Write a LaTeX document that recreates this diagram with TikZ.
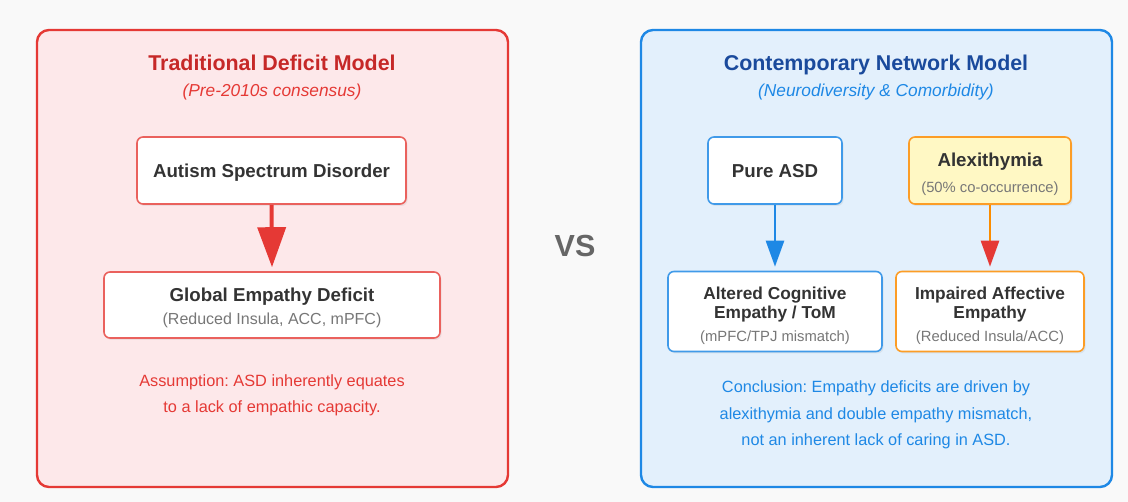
\documentclass[tikz,border=0pt]{standalone}
\usepackage{fontspec}
\setmainfont{Liberation Sans}
\usetikzlibrary{arrows.meta,shadows}
\definecolor{pagebg}{HTML}{F9F9F9}
\definecolor{redline}{HTML}{E53935}
\definecolor{redtitle}{HTML}{C62828}
\definecolor{redfill}{HTML}{FDE8EA}
\definecolor{blueline}{HTML}{1E88E5}
\definecolor{bluetitle}{HTML}{1A4A9C}
\definecolor{bluefill}{HTML}{E3F0FC}
\definecolor{orangeline}{HTML}{FB8C00}
\definecolor{yellowfill}{HTML}{FFF8C4}
\definecolor{darktext}{HTML}{333333}
\definecolor{subtext}{HTML}{777777}
\definecolor{vsgray}{HTML}{666666}
\tikzset{
  panel/.style={rounded corners=12pt, line width=2.4pt},
  card/.style={rounded corners=6pt, line width=1.6pt, fill=white,
    drop shadow={opacity=0.12, shadow xshift=1.5pt, shadow yshift=-2pt}},
  % every text line sits on its own baseline
  txt/.style={anchor=base, inner sep=0pt},
  ptitle/.style={txt, font=\fontsize{21.4}{24}\selectfont\bfseries},
  psub/.style={txt, font=\fontsize{17.3}{20}\selectfont\itshape},
  head/.style={txt, text=darktext, font=\fontsize{18.7}{20}\selectfont\bfseries},
  headsm/.style={txt, text=darktext, font=\fontsize{17.3}{20}\selectfont\bfseries},
  sub/.style={txt, text=subtext, font=\fontsize{14.8}{18}\selectfont},
  note/.style={txt, font=\fontsize{16.3}{20}\selectfont\frenchspacing},
}
\begin{document}
\begin{tikzpicture}[x=1pt,y=-1pt]
\fill[pagebg] (0,0) rectangle (1128,502);
\useasboundingbox (0,0) rectangle (1128,502);

% ---------- left panel: the deficit model ----------
\draw[panel, draw=redline, fill=redfill] (37,30) rectangle (508,487);
\node[ptitle, text=redtitle] (ltitle) at (272,71) {Traditional Deficit Model};
\node[psub, text=redline] (lsub) at (272,97) {(Pre-2010s consensus)};

\node[card, draw=redline!80, minimum width=269pt, minimum height=67pt] (asd) at (271.5,170.5) {};
\node[head] (asdtxt) at (271.5,178) {Autism Spectrum Disorder};

\node[card, draw=redline!80, minimum width=336pt, minimum height=66pt] (glob) at (272,305) {};
\node[head] (globtxt) at (272,302) {Global Empathy Deficit};
\node[sub, font=\fontsize{16}{18}\selectfont] (globsub) at (272,325) {(Reduced Insula, ACC, mPFC)};

\draw[redline, line width=4pt, -{Triangle[length=40pt,width=28pt]}] (asd.south) -- ([yshift=4pt]glob.north);

\node[note, text=redline] (lnote1) at (272,387) {Assumption: ASD inherently equates};
\node[note, text=redline] (lnote2) at (272,413) {to a lack of empathic capacity.};

% ---------- centre label ----------
\node[txt, font=\fontsize{30.5}{34}\selectfont\bfseries, text=vsgray] (vs) at (575,257) {VS};

% ---------- right panel: the network model ----------
\draw[panel, draw=blueline, fill=bluefill] (641,30) rectangle (1112,487);
\node[ptitle, text=bluetitle] (rtitle) at (876,71) {Contemporary Network Model};
\node[psub, text=blueline] (rsub) at (876,97) {(Neurodiversity \& Comorbidity)};

\node[card, draw=blueline!85, minimum width=134pt, minimum height=67pt] (pure) at (775,170.5) {};
\node[head] (puretxt) at (775,178) {Pure ASD};

\node[card, draw=orangeline!85, fill=yellowfill, minimum width=162pt, minimum height=67pt] (alex) at (990,170.5) {};
\node[head] (alextxt) at (990,167) {Alexithymia};
\node[sub] (alexsub) at (990,193) {(50\% co-occurrence)};

\node[card, draw=blueline!85, minimum width=214pt, minimum height=80pt] (cog) at (775,311.5) {};
\node[headsm] (cogtxt1) at (775,300) {Altered Cognitive};
\node[headsm] (cogtxt2) at (775,319) {Empathy / ToM};
\node[sub] (cogsub) at (775,342) {(mPFC/TPJ mismatch)};

\node[card, draw=orangeline!85, minimum width=188pt, minimum height=80pt] (aff) at (990,311.5) {};
\node[headsm] (afftxt1) at (990,300) {Impaired Affective};
\node[headsm] (afftxt2) at (990,319) {Empathy};
\node[sub] (affsub) at (990,342) {(Reduced Insula/ACC)};

\draw[blueline, line width=2.6pt, -{Triangle[length=26pt,width=18pt]}] (pure.south) -- ([yshift=4pt]cog.north);
\draw[orangeline, line width=2.6pt, -{Triangle[length=26pt,width=18pt,fill=redline,color=redline]}] (alex.south) -- ([yshift=4pt]aff.north);

\node[note, text=blueline] (rnote1) at (876,393) {Conclusion: Empathy deficits are driven by};
\node[note, text=blueline] (rnote2) at (876,420) {alexithymia and double empathy mismatch,};
\node[note, text=blueline] (rnote3) at (876,446) {not an inherent lack of caring in ASD.};
\end{tikzpicture}
\end{document}
